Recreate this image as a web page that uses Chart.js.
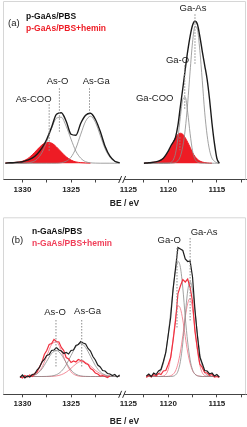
<!DOCTYPE html>
<html>
<head>
<meta charset="utf-8">
<script src="https://cdn.jsdelivr.net/npm/chart.js@4.4.1/dist/chart.umd.min.js"></script>
<style>
  html, body { margin: 0; padding: 0; background: #fff; }
  #wrap { position: relative; width: 247px; height: 427px; overflow: hidden; }
  canvas { position: absolute; left: 0; }
  #chartA { top: 0; }
  #chartB { top: 214px; }
</style>
</head>
<body>
<div id="wrap">
  <canvas id="chartA" width="247" height="213"></canvas>
  <canvas id="chartB" width="247" height="213"></canvas>
</div>
<script>
// ---- shared axis: binding energy with a break between 1320 and 1125 eV ----
const tickBE   = [1330, 1327.5, 1325, 1322.5, 1125, 1122.5, 1120, 1117.5, 1115, 1112.5];
const tickText = ['1330', '', '1325', '', '1125', '', '1120', '', '1115', ''];
const breakBE = 1125;

// ---- panel (a): p-GaAs, fitted envelopes ----
const aLeftBE  = [1331.75, 1331.5, 1331, 1330.5, 1330, 1329.5, 1329, 1328.5, 1328, 1327.5, 1327, 1326.5, 1326,
                  1325.5, 1325, 1324.5, 1324, 1323.5, 1323, 1322.5, 1322, 1321.5, 1321, 1320.5, 1320];
const aLeftPBS = [0, 0.3, 0.5, 1, 1.5, 3, 5, 9, 15, 24, 36, 49, 50.5, 42, 29, 28, 40, 48, 50, 44, 32, 17, 7, 2, 0.5];
const aLeftAsO = [0, 0, 0, 0, 0, 0.3, 1.3, 4, 10.5, 21.5, 35, 45, 46, 37, 24, 12, 5, 1.5, 0.4, 0.1, 0, 0, 0, 0, 0];
const aLeftAsGa = [0, 0, 0, 0, 0, 0, 0, 0, 0, 0, 0, 0, 0.5, 2, 6, 15, 29, 42, 47, 41, 28, 14.5, 6, 2, 0.4];
const aLeftCOO = [0.3, 0.5, 0.7, 1, 2, 4.3, 8.3, 13.4, 18.2, 20.8, 20.1, 16.3, 11.2, 6.4, 3.1, 1.3, 0.6, 0.3, 0.1,
                  null, null, null, null, null, null];

const aRightBE  = [1122.5, 1122, 1121, 1120.5, 1120, 1119.75, 1119.5, 1119.25, 1119, 1118.75, 1118.5, 1118.25, 1118,
                   1117.75, 1117.5, 1117.25, 1117, 1116.75, 1116.5, 1116.25, 1116, 1115.75, 1115.5, 1115.25, 1115, 1114.75];
const aRightPBS  = [0, 0.5, 2, 5, 12, 17, 21, 26, 38, 57, 75, 94, 112, 127, 138, 142, 139, 127, 112, 98, 84, 64, 40, 20, 5, 0];
const aRightGaAs = [0, 0, 0, 0, 0, 0, 0.2, 0.8, 2.5, 7, 17, 34, 60, 92, 121, 137, 134, 113, 83, 51, 28, 13, 5, 2, 0.5, 0];
const aRightGaO  = [0, 0, 0, 0, 0.1, 0.7, 3, 10, 25.5, 46.7, 64, 66, 51, 29.6, 12.4, 4, 1.2, 0.3, 0, 0, 0, 0, 0, 0, 0, 0];
const aRightCOO  = [0, 0.5, 2, 5, 11, 16, 21, 25.6, 29, 30, 29, 25.5, 21, 16, 10.6, 6.8, 4, 2.2, 1.2, 0.6, 0.3, 0.1, 0,
                    null, null, null];

const aMarkName   = ['As-COO', 'As-O', 'As-Ga', 'Ga-COO', 'Ga-O', 'Ga-As'];
const aMarkBE     = [1327.25, 1326.2, 1323.1, 1118.8, 1118.3, 1117.25];
const aMarkTop    = [59, 75, 75, 26, 98, 149];
const aMarkBottom = [11, 30, 50, 13, 53, 99];

// ---- panel (b): n-GaAs, raw spectra and fitted components ----
const bLeftBE = [1330.25, 1330, 1329.75, 1329.5, 1329.25, 1329, 1328.75, 1328.5, 1328.25, 1328, 1327.75, 1327.5,
                 1327.25, 1327, 1326.75, 1326.5, 1326.25, 1326, 1325.75, 1325.5, 1325.25, 1325, 1324.75, 1324.5,
                 1324.25, 1324, 1323.75, 1323.5, 1323.25, 1323, 1322.75, 1322.5, 1322.25, 1322, 1321.75, 1321.5,
                 1321.25, 1321, 1320.75, 1320.5, 1320.25, 1320];
const bLeftPBS = [-1, 1.5, -1.5, 0.5, -0.5, 2, 2.5, 6.5, 9, 14.5, 17, 21, 22, 26, 26.5, 29, 26.5, 25.5, 23, 24, 22.5,
                  26, 26.5, 31, 32, 35, 33.5, 32.5, 28, 25.5, 20, 16.5, 11.5, 9.5, 6, 5.5, 3, 2.5, 1, 2, -0.5, 1.5];
const bLeftHemin = [0, -1.5, 1, -0.5, 1.5, 0, 3, 4.5, 9.5, 14, 22, 26, 32, 33, 37, 35, 34.5, 29, 26, 19, 17.5, 14,
                    15.5, 14.5, 17, 16, 15.5, 13, 12, 8, 6.5, 3.5, 2.5, 0.5, 1, 0, -1, 0.5, null, null, null, null];

const bFitLeftBE = [1330, 1329.5, 1329, 1328.5, 1328, 1327.5, 1327, 1326.5, 1326, 1325.5, 1325, 1324.5, 1324, 1323.5,
                    1323, 1322.5, 1322, 1321.5, 1321, 1320.5, 1320];
const bAsO    = [0, 0.2, 0.8, 2.8, 7.5, 15.2, 23, 26, 21.9, 13.9, 6.5, 2.3, 0.6, 0.1, 0, 0, 0, 0, 0, 0, 0];
const bAsGa   = [0, 0, 0, 0, 0, 0.1, 0.5, 1.8, 5.2, 11.7, 21, 29.7, 33, 29, 20.2, 11, 4.7, 1.6, 0.4, 0.1, 0];
const bAsOH   = [0, 0, 0.6, 2.8, 9, 20.4, 32, 34.5, 25.6, 13.4, 4.7, 1.2, 0.2, 0, 0, 0, 0, 0, 0, 0, 0];
const bAsGaH  = [0, 0, 0, 0, 0, 0, 0.15, 0.6, 1.8, 4.3, 8.2, 12.5, 15, 14, 10.6, 6.2, 2.9, 1.1, 0.3, 0, 0];

const bRightBE = [1122.25, 1122, 1121.75, 1121.5, 1121.25, 1121, 1120.75, 1120.5, 1120.25, 1120, 1119.75, 1119.5,
                  1119.25, 1119, 1118.75, 1118.5, 1118.25, 1118, 1117.75, 1117.5, 1117.25, 1117, 1116.75, 1116.5,
                  1116.25, 1116, 1115.75, 1115.5, 1115.25, 1115, 1114.75];
const bRightPBS = [0.5, 2.5, 0, 3.5, 2, 5.5, 7, 15, 24, 41.5, 59, 87.5, 108.5, 129, 127.5, 126, 117.5, 115, 115.5,
                   99.5, 66.5, 41, 19.5, 13, 6, 5.5, 2.5, 3.5, 0.5, 2, -0.5];
const bRightHemin = [-1, 1.5, -0.5, 2, 0.5, 3, 2, 5.5, 6, 12, 19, 36, 55.5, 83, 90.5, 97, 94.5, 97.5, 89, 75, 45, 28,
                     12.5, 9, 4, 3.5, 1, 2, -0.5, 0, -1];
const bGaO   = [0, 0, 0, 0.3, 1.1, 2.7, 6.2, 13.4, 25.1, 42.2, 64.8, 87.3, 105.9, 115, 109.2, 88.4, 59.3, 34.4, 16.8,
                6.7, 2.3, 0.7, 0.2, 0, 0, 0, 0, 0, 0, 0, 0];
const bGaAs  = [0, 0, 0, 0, 0, 0, 0, 0, 0, 0, 0, 0.3, 1.5, 5.3, 15, 33.7, 61, 85.5, 95, 86, 65.8, 42.4, 23.1, 10.2,
                3.9, 1.3, 0.3, 0, 0, 0, 0];
const bGaOH  = [0, 0, 0, 0, 0, 0, 0.1, 0.5, 2.1, 7.1, 19, 37.7, 58.4, 70.6, 68, 56.4, 39.8, 24.5, 13.2, 5.9, 2.4, 0.9,
                0.3, 0, 0, 0, 0, 0, 0, 0, 0];
const bGaAsH = [0, 0, 0, 0, 0, 0, 0, 0, 0, 0.2, 0.8, 2.2, 5.6, 12.9, 24.6, 40.8, 59.2, 73, 78, 68, 47.3, 26, 11.4,
                3.8, 1, 0.2, 0, 0, 0, 0, 0];

const bMarkName   = ['As-O', 'As-Ga', 'Ga-O', 'Ga-As'];
const bMarkBE     = [1326.55, 1323.9, 1119.1, 1117.75];
const bMarkTop    = [56.5, 56.5, 128.5, 138.5];
const bMarkBottom = [8.5, 8.5, 48.5, 54.5];

const FONT = "'Liberation Sans', Arial, sans-serif";
const RED = '#ee1c25';

// the As 3d region is moved next to the Ga region so both share one axis
function toAxis(be) {
  return be > 1200 ? be - 195 : be;
}

function curve(xs, ys, color, width, extra) {
  return Object.assign({
    data: xs.map((b, i) => ({ x: toAxis(b), y: ys[i] })),
    borderColor: color,
    borderWidth: width,
    pointRadius: 0,
    cubicInterpolationMode: 'monotone',
    fill: false
  }, extra || {});
}

function guides(beArr, topArr, botArr) {
  return beArr.map((b, i) => ({
    data: [{ x: toAxis(b), y: topArr[i] }, { x: toAxis(b), y: botArr[i] }],
    borderColor: '#8c8c8c',
    borderWidth: 1,
    borderDash: [1.5, 1.5],
    pointRadius: 0
  }));
}

const decorPlugin = {
  id: 'decor',
  beforeDatasetsDraw(chart) {
    const { ctx, chartArea: a } = chart;
    ctx.save();
    ctx.strokeStyle = '#d6d6d6';
    ctx.lineWidth = 1;
    ctx.beginPath();
    ctx.moveTo(a.left + 0.5, a.bottom);
    ctx.lineTo(a.left + 0.5, a.top + 0.5);
    ctx.lineTo(a.right - 0.5, a.top + 0.5);
    ctx.lineTo(a.right - 0.5, a.bottom);
    ctx.stroke();
    ctx.restore();
  },
  afterDraw(chart, args, o) {
    const { ctx, chartArea: a, scales: { x, y } } = chart;
    ctx.save();
    ctx.textBaseline = 'middle';

    // panel tag + legend
    ctx.textAlign = 'left';
    ctx.fillStyle = '#222';
    ctx.font = `9.5px ${FONT}`;
    ctx.fillText(o.tag, o.tagAt[0], o.tagAt[1]);
    ctx.font = `bold 8.5px ${FONT}`;
    o.legend.forEach((txt, i) => {
      ctx.fillStyle = o.legendColors[i];
      ctx.fillText(txt, o.legendX, o.legendY[i]);
    });

    // peak names above their guide lines
    ctx.textAlign = 'center';
    ctx.fillStyle = '#222';
    ctx.font = `9.5px ${FONT}`;
    o.names.forEach((n, i) => {
      const px = x.getPixelForValue(toAxis(o.markBE[i])) + o.nameOffset[i][0];
      const py = y.getPixelForValue(o.markTop[i]) + o.nameOffset[i][1];
      ctx.fillText(n, px, py);
    });

    // axis break "//"
    const bx = x.getPixelForValue(toAxis(breakBE)) + o.breakDx;
    const by = a.bottom;
    ctx.fillStyle = '#fff';
    ctx.fillRect(bx - 2.5, by - 1.5, 3, 3);
    ctx.strokeStyle = '#333';
    ctx.lineWidth = 1;
    ctx.beginPath();
    ctx.moveTo(bx - 5, by + 3.5);
    ctx.lineTo(bx - 2, by - 3.5);
    ctx.moveTo(bx - 1, by + 3.5);
    ctx.lineTo(bx + 2, by - 3.5);
    ctx.stroke();
    ctx.restore();
  }
};

function makePanel(id, datasets, yMin, yMax, padTop, axisHeight, titlePad, decor) {
  return new Chart(document.getElementById(id), {
    type: 'line',
    data: { datasets },
    options: {
      responsive: false,
      animation: false,
      devicePixelRatio: 1,
      events: [],
      layout: { padding: { left: 3, right: 1, top: padTop, bottom: 0 } },
      plugins: {
        legend: { display: false },
        tooltip: { enabled: false },
        decor
      },
      scales: {
        x: {
          type: 'linear',
          reverse: true,
          min: 1112,
          max: 1137,
          afterBuildTicks: axis => {
            // the 1125 label sits just right of the break
            axis.ticks = tickBE.map(b => ({ value: toAxis(b) - (b === breakBE ? 0.9 : 0) }));
          },
          afterFit: axis => { axis.height = axisHeight; },
          border: { display: true, color: '#444', width: 1 },
          grid: {
            drawOnChartArea: false,
            tickLength: 3,
            tickColor: ctx => (tickBE[ctx.index] === breakBE ? 'rgba(0,0,0,0)' : '#444')
          },
          ticks: {
            autoSkip: false,
            maxRotation: 0,
            padding: 2,
            color: '#222',
            font: { family: FONT, size: 8, weight: 'bold' },
            callback: (v, i) => tickText[i]
          },
          title: {
            display: true,
            text: 'BE / eV',
            color: '#222',
            font: { family: FONT, size: 8.5, weight: 'bold' },
            padding: { top: 0, bottom: titlePad }
          }
        },
        y: { display: false, min: yMin, max: yMax }
      }
    },
    plugins: [decorPlugin]
  });
}

// ---- panel (a) ----
makePanel('chartA', [
  ...guides(aMarkBE, aMarkTop, aMarkBottom),
  curve(aLeftBE, aLeftPBS, '#1a1a1a', 1.4),
  curve(aLeftBE, aLeftAsO, '#8a8a8a', 0.8),
  curve(aLeftBE, aLeftAsGa, '#8a8a8a', 0.8),
  curve(aLeftBE, aLeftCOO, RED, 1, { fill: 'origin', backgroundColor: RED }),
  curve(aRightBE, aRightPBS, '#1a1a1a', 1.4),
  curve(aRightBE, aRightGaAs, '#8a8a8a', 0.8),
  curve(aRightBE, aRightGaO, '#8a8a8a', 0.8),
  curve(aRightBE, aRightCOO, RED, 1, { fill: 'origin', backgroundColor: RED })
], -16.3, 162.3, 1, 33.5, 4, {
  tag: '(a)', tagAt: [8, 23.5],
  legend: ['p-GaAs/PBS', 'p-GaAs/PBS+hemin'], legendColors: ['#111', RED],
  legendX: 26, legendY: [16.5, 29],
  names: aMarkName, markBE: aMarkBE, markTop: aMarkTop,
  nameOffset: [[-15.5, -4.5], [-1.8, -7], [6.7, -7], [-25.2, -39], [-7.2, -4.5], [-2, -5.5]],
  breakDx: 4
});

// ---- panel (b) ----
makePanel('chartB', [
  ...guides(bMarkBE, bMarkTop, bMarkBottom),
  curve(bLeftBE, bLeftPBS, '#1e1e1e', 1.2, { cubicInterpolationMode: 'default', tension: 0 }),
  curve(bLeftBE, bLeftHemin, '#f0303f', 1.2, { cubicInterpolationMode: 'default', tension: 0 }),
  curve(bFitLeftBE, bAsO, '#8a8a8a', 0.8),
  curve(bFitLeftBE, bAsGa, '#8a8a8a', 0.8),
  curve(bFitLeftBE, bAsOH, '#f07080', 0.8),
  curve(bFitLeftBE, bAsGaH, '#f07080', 0.8),
  curve(bRightBE, bRightPBS, '#1e1e1e', 1.2, { cubicInterpolationMode: 'default', tension: 0 }),
  curve(bRightBE, bRightHemin, '#f0303f', 1.2, { cubicInterpolationMode: 'default', tension: 0 }),
  curve(bRightBE, bGaO, '#8a8a8a', 0.8),
  curve(bRightBE, bGaAs, '#8a8a8a', 0.8),
  curve(bRightBE, bGaOH, '#f07080', 0.8),
  curve(bRightBE, bGaAsH, '#f07080', 0.8)
], -17.8, 159.2, 3.3, 32.7, 0.5, {
  tag: '(b)', tagAt: [11.5, 26],
  legend: ['n-GaAs/PBS', 'n-GaAs/PBS+hemin'], legendColors: ['#111', '#f0405a'],
  legendX: 32, legendY: [17.5, 30],
  names: bMarkName, markBE: bMarkBE, markTop: bMarkTop,
  nameOffset: [[-1, -8], [5.8, -9], [-7.8, -8], [14, -6]],
  breakDx: 4
});
</script>
</body>
</html>
